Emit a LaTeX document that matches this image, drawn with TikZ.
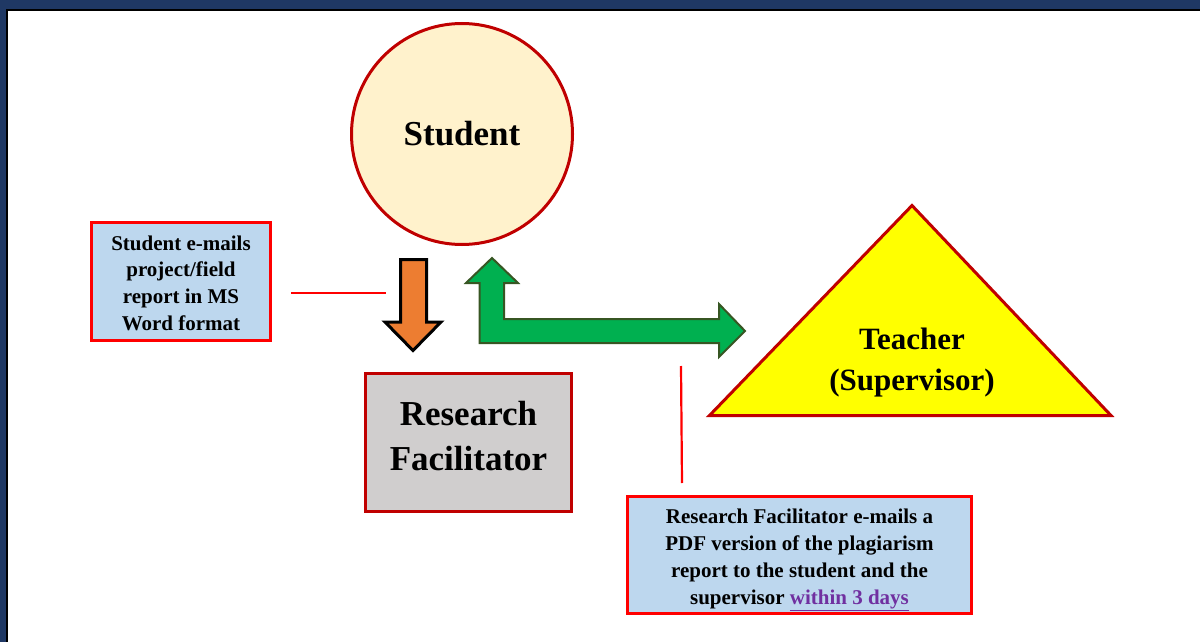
\documentclass[tikz,border=0pt]{standalone}
\usepackage{fontspec}
\setmainfont{Liberation Serif}
\definecolor{navy}{HTML}{1F3864}
\definecolor{darkred}{HTML}{C00000}
\definecolor{cream}{HTML}{FFF2CC}
\definecolor{grayfill}{HTML}{D0CECE}
\definecolor{lightblue}{HTML}{BDD7EE}
\definecolor{brightred}{HTML}{FF0000}
\definecolor{orangefill}{HTML}{ED7D31}
\definecolor{greenfill}{HTML}{00B050}
\definecolor{darkgreen}{HTML}{375623}
\definecolor{linkpurple}{HTML}{7030A0}
\definecolor{teacheryellow}{HTML}{FFFF00}
\begin{document}
\begin{tikzpicture}[x=1pt,y=-1pt,
  bigtext/.style={font=\bfseries\fontsize{35}{45}\selectfont, align=center},
  midtext/.style={font=\bfseries\fontsize{31}{41}\selectfont, align=center},
  calltext/.style={font=\bfseries\fontsize{21}{26.7}\selectfont, align=center},
  callout/.style={draw=brightred, line width=3pt, fill=lightblue, inner sep=0pt},
  calloutline/.style={draw=brightred, line width=2.2pt},
  mainshape/.style={draw=darkred, line width=3pt, line join=miter}
]
\useasboundingbox (0,0) rectangle (1200,642);
% frame
\fill[navy] (0,0) rectangle (1200,9);
\fill[navy] (0,0) rectangle (6,642);
\fill[black] (6,9) rectangle (1200,11);
\fill[black] (6,9) rectangle (8,642);

% Student
\node[circle, mainshape, fill=cream, minimum size=221pt, inner sep=0pt, bigtext] (student) at (462,134) {Student};

% Research Facilitator
\node[rectangle, mainshape, fill=grayfill, minimum width=206pt, minimum height=138pt, inner sep=0pt] (rf) at (468.5,442.5) {};
\node[bigtext] (rftext) at (468.5,436) {Research\\Facilitator};

% Teacher triangle
\coordinate (tapex) at (912,205.5);
\coordinate (tleft) at (709.5,415.5);
\coordinate (tright) at (1111,415.5);
\path[mainshape, fill=teacheryellow] (tapex) -- (tright) -- (tleft) -- cycle;
\node[midtext] (teacher) at (912,363) {Teacher\\(Supervisor)};

% orange down arrow
\path[draw=black, line width=3pt, fill=orangefill, line join=miter]
  (400.5,259.5) -- (426.5,259.5) -- (426.5,322) -- (441,322) -- (413,350.5) -- (385,322) -- (400.5,322) -- cycle;

% green double L arrow
\path[draw=darkgreen, line width=2pt, fill=greenfill, line join=miter]
  (492,258) -- (518,283) -- (504,283) -- (504,319) -- (719,319) -- (719,304)
  -- (745,331) -- (719,357) -- (719,343) -- (479.5,343) -- (479.5,283) -- (466,283) -- cycle;

% callout 1
\node[callout, minimum width=179pt, minimum height=118pt] (call1) at (181,281.5) {};
\node[calltext] (call1text) at (181,283)
  {Student e-mails\\project/field\\report in MS\\Word format};
\coordinate (c1a) at (291,293);
\coordinate (c1b) at (386,293);
\draw[calloutline] (c1a) -- (c1b);

% callout 2
\node[callout, minimum width=344pt, minimum height=117pt] (call2) at (799.5,555) {};
\node[calltext] (call2text) at (799.5,560)
  {Research Facilitator e-mails a\\PDF version of the plagiarism\\report to the student and the\\supervisor \textcolor{linkpurple}{\underline{within 3 days}}};
\coordinate (c2a) at (681,366);
\coordinate (c2b) at (682,483);
\draw[calloutline] (c2a) -- (c2b);
\end{tikzpicture}
\end{document}
